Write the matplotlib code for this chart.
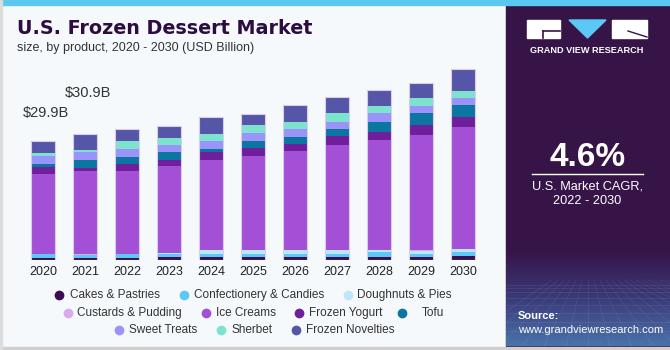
import numpy as np
import matplotlib.pyplot as plt
from matplotlib.patches import Rectangle, Polygon
from matplotlib.colors import LinearSegmentedColormap

plt.rcParams['font.family'] = ['Liberation Sans', 'DejaVu Sans']

years = ['2020', '2021', '2022', '2023', '2024', '2025', '2026', '2027', '2028', '2029', '2030']
segments = ['Cakes & Pastries', 'Confectionery & Candies', 'Doughnuts & Pies',
            'Custards & Pudding', 'Ice Creams', 'Frozen Yogurt', 'Tofu',
            'Sweet Treats', 'Sherbet', 'Frozen Novelties']
cakes = [0.6, 0.6, 0.6, 0.7, 0.7, 0.7, 0.7, 0.7, 0.7, 0.7, 1.1]
confectionery = [0.9, 0.75, 0.9, 0.8, 0.8, 0.8, 0.9, 0.8, 1.2, 0.8, 1.0]
doughnuts = [0.0, 0.0, 0.0, 0.3, 1.0, 1.0, 0.8, 0.9, 0.6, 0.8, 0.6]
custards = [0.05, 0.05, 0.05, 0.05, 0.1, 0.1, 0.1, 0.1, 0.1, 0.1, 0.1]
ice_creams = [19.95, 20.9, 20.75, 21.65, 22.5, 23.4, 24.75, 26.25, 27.4, 28.85, 30.4]
frozen_yogurt = [1.7, 0.8, 1.7, 1.5, 1.8, 1.9, 1.7, 2.25, 1.9, 2.4, 2.6]
tofu = [0.9, 1.8, 1.8, 2.0, 0.8, 1.8, 1.8, 1.75, 2.7, 3.0, 3.0]
sweet_treats = [1.9, 2.0, 2.0, 1.8, 2.0, 2.0, 2.0, 1.8, 2.2, 1.8, 1.6]
sherbet = [0.8, 0.7, 1.9, 1.8, 1.8, 2.0, 1.8, 2.1, 1.8, 2.1, 1.9]
frozen_novelties = [3.0, 4.0, 3.0, 3.0, 4.2, 2.9, 4.1, 4.0, 4.0, 3.8, 5.4]
total_labels = ['$29.9B', '$30.9B']

series = [cakes, confectionery, doughnuts, custards, ice_creams, frozen_yogurt,
          tofu, sweet_treats, sherbet, frozen_novelties]
colors = ['#3a0f4f', '#5bc8f5', '#bde6f9', '#d9abec', '#a34fd6', '#6f1f9c',
          '#0b77a0', '#9a93fa', '#7de3cf', '#5656a8']

W, H = 670, 350
fig = plt.figure(figsize=(6.7, 3.5), dpi=100)

# background decorations in pixel coords
bg = fig.add_axes([0, 0, 1, 1], zorder=-2)
bg.set_xlim(0, W)
bg.set_ylim(H, 0)
bg.axis('off')
bg.add_patch(Rectangle((0, 0), W, H, color='#f5f9fc'))
bg.add_patch(Rectangle((506, 0), W - 506, H, color='#371448'))
# panel bottom gradient + faint grid
grad = np.linspace(0, 1, 100).reshape(-1, 1)
cm = LinearSegmentedColormap.from_list('g', ['#371448', '#3a3a78', '#4a72aa'])
bg.imshow(grad, cmap=cm, extent=(506, W, 346, 250), aspect='auto', zorder=1)
for k in range(8):
    yy = 285 + k ** 1.5 * 2.5
    bg.plot([506, W], [yy, yy], color='white', alpha=0.08, lw=0.6, zorder=2)
for k in range(-6, 14):
    bg.plot([588 + k * 6, 588 + k * 22], [280, 346], color='white', alpha=0.07, lw=0.6, zorder=2)
bg.add_patch(Rectangle((0, 0), W, 4.5, color='#5bc8f0', zorder=3))
bg.add_patch(Rectangle((0, 346.5), W, 3.5, color='#cfcfcf', zorder=3))
bg.add_patch(Rectangle((0, 0), 1.5, H, color='#dcdcdc', zorder=3))

# logo
bg.add_patch(Rectangle((527, 20), 33, 18, color='white', zorder=3))
bg.plot([543, 560], [31, 31], color='#371448', lw=1.2, zorder=4)
bg.plot([543, 543], [31, 38], color='#371448', lw=1.2, zorder=4)
bg.add_patch(Polygon([(569, 20), (606, 20), (587.5, 38)], color='#5bc8f5', zorder=3))
bg.add_patch(Rectangle((612, 20), 35, 18, color='white', zorder=3))
bg.plot([628, 647], [31, 37], color='#371448', lw=1.0, zorder=4)
bg.text(587, 50.5, 'GRAND VIEW RESEARCH', color='white', fontsize=6.6, fontweight='bold',
        ha='center', va='center', zorder=4)

bg.text(587.5, 157, '4.6%', color='white', fontsize=24, fontweight='bold',
        ha='center', va='center', zorder=4)
bg.plot([532, 643], [173.5, 173.5], color='white', lw=1.0, zorder=4)
bg.text(587.5, 186.5, 'U.S. Market CAGR,', color='white', fontsize=9.2,
        ha='center', va='center', zorder=4)
bg.text(587.5, 201.5, '2022 - 2030', color='white', fontsize=9.2,
        ha='center', va='center', zorder=4)
bg.text(518, 316, 'Source:', color='white', fontsize=8, fontweight='bold',
        ha='left', va='center', zorder=4)
bg.text(518, 330, 'www.grandviewresearch.com', color='white', fontsize=8,
        ha='left', va='center', zorder=4)

# titles
bg.text(17, 28.5, 'U.S. Frozen Dessert Market', color='#2d0c42', fontsize=13.8,
        fontweight='bold', family='DejaVu Sans', ha='left', va='center')
bg.text(17, 48, 'size, by product, 2020 - 2030 (USD Billion)', color='#333333',
        fontsize=9, ha='left', va='center')

# legend entries laid out like the original (3 rows)
legend_pos = [(59, 295, 70), (184, 295, 194), (348, 295, 357),
              (68, 313, 77), (206, 313, 216), (299, 313, 309), (402, 313, 422),
              (119, 330, 129), (221, 330, 231), (296, 330, 306)]
for (mx, my, tx), name, c in zip(legend_pos, segments, colors):
    bg.plot(mx, my, 'o', color=c, ms=6, zorder=4)
    bg.text(tx, my, name, color='#333333', fontsize=8.5, ha='left', va='center', zorder=4)

# bar chart
ax = fig.add_axes([22 / W, 90 / H, 462 / W, 200 / H])
ax.patch.set_alpha(0)
x = np.arange(len(years))
bottom = np.zeros(len(years))
for vals, c in zip(series, colors):
    ax.bar(x, vals, bottom=bottom, width=0.57, color=c, linewidth=0)
    bottom += np.array(vals)
# light outline around each whole bar
ax.bar(x, bottom, width=0.57, fill=False, edgecolor='#d8ccef', linewidth=0.8)

offsets = [(2, 15), (2, 24)]
for i, lab in enumerate(total_labels):
    ax.annotate(lab, (x[i], bottom[i]), xytext=offsets[i], textcoords='offset points',
                ha='center', va='bottom', fontsize=10.5, color='#333333')

ax.set_xlim(-0.5, 10.5)
ax.set_ylim(0, 50)
ax.set_xticks(x)
ax.set_xticklabels(years, fontsize=9, color='#222222')
ax.tick_params(axis='x', length=0, pad=4)
ax.set_yticks([])
for s in ax.spines.values():
    s.set_visible(False)

fig.savefig('out.png', dpi=100)
